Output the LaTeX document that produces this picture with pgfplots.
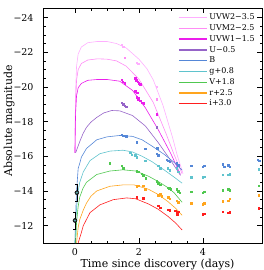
\documentclass[border=0pt]{standalone}
\usepackage{fontspec}
\setmainfont{DejaVu Serif}
\usepackage{pgfplots}
\pgfplotsset{compat=1.18}
\definecolor{cwtwo}{RGB}{255,175,255}
\definecolor{cmtwo}{RGB}{255,140,245}
\definecolor{cwone}{RGB}{235,30,235}
\definecolor{cu}{RGB}{150,100,200}
\definecolor{cb}{RGB}{85,135,215}
\definecolor{cg}{RGB}{95,195,205}
\definecolor{cv}{RGB}{80,200,80}
\definecolor{cr}{RGB}{255,165,30}
\definecolor{ci}{RGB}{255,30,30}
\pgfplotsset{pts/.style={forget plot, only marks, mark=square*, mark size=0.75pt, mark options={fill=#1, draw=#1}, color=#1},
 crv/.style={forget plot, no marks, line width=0.6pt, color=#1}}
\begin{document}
\begin{tikzpicture}
\begin{axis}[name=ax, scale only axis, width=219bp, height=235bp,
 xmin=-1, xmax=5.85, ymin=-24.55, ymax=-11.0, y dir=reverse,
 xtick={0,2,4}, xticklabels={0,2,4}, minor x tick num=3,
 ytick={-24,-22,-20,-18,-16,-14,-12}, yticklabels={−24,−22,−20,−18,−16,−14,−12}, minor y tick num=3,
 tick align=inside, tick pos=both,
 major tick length=5bp, minor tick length=2.5bp,
 tick style={black, line width=0.5pt},
 axis line style={line width=0.6pt},
 xlabel={Time since discovery (days)}, ylabel={Absolute magnitude},
 xlabel style={font=\fontsize{11}{12}\selectfont, at={(axis description cs:0.523,-0.09)}, anchor=center},
 ylabel style={font=\fontsize{11}{12}\selectfont, at={(axis description cs:-0.155,0.52)}, anchor=center},
 tick label style={font=\fontsize{9.5}{10}\selectfont},
 yticklabel style={xshift=-6bp},
 xticklabel style={yshift=-2bp},
 legend style={draw=none, fill=none, at={(axis description cs:0.616,0.985)}, anchor=north west,
   font=\fontsize{8}{9}\selectfont, inner sep=0pt, row sep=-0.6pt,
   /tikz/every even column/.append style={column sep=3bp}},
 legend cell align=left,
 legend image code/.code={\draw[#1] (0bp,0bp) -- (28bp,0bp);},
]
\addlegendimage{draw=cwtwo, line width=1.4pt}\addlegendentry{UVW2−3.5}
\addlegendimage{draw=cmtwo, line width=1.4pt}\addlegendentry{UVM2−2.5}
\addlegendimage{draw=cwone, line width=1.1pt}\addlegendentry{UVW1−1.5}
\addlegendimage{draw=cu, line width=1.4pt}\addlegendentry{U−0.5}
\addlegendimage{draw=cb, line width=1.1pt}\addlegendentry{B}
\addlegendimage{draw=cg, line width=1.4pt}\addlegendentry{g+0.8}
\addlegendimage{draw=cv, line width=1.1pt}\addlegendentry{V+1.8}
\addlegendimage{draw=cr, line width=1.4pt}\addlegendentry{r+2.5}
\addlegendimage{draw=ci, line width=1.1pt}\addlegendentry{i+3.0}
% model curves
\addplot[crv=cwtwo] coordinates {(0.0,-16.2) (0.01,-18.5) (0.02,-19.8) (0.05,-21.2) (0.1,-21.9) (0.2,-22.3) (0.4,-22.55) (0.7,-22.62) (1.0,-22.62) (1.3,-22.5) (1.6,-22.25) (2.0,-21.6) (2.25,-21.05) (2.45,-20.4) (2.75,-18.95) (3.05,-17.1) (3.2,-16.05) (3.38,-15.0)};
\addplot[crv=cmtwo] coordinates {(0.0,-16.2) (0.01,-18.0) (0.02,-19.0) (0.05,-20.4) (0.1,-21.0) (0.2,-21.35) (0.4,-21.55) (0.7,-21.62) (1.0,-21.6) (1.3,-21.5) (1.6,-21.2) (2.0,-20.45) (2.45,-19.1) (2.85,-17.3) (3.1,-16.1) (3.35,-15.0)};
\addplot[crv=cwone] coordinates {(0.0,-16.2) (0.01,-17.6) (0.02,-18.5) (0.05,-19.5) (0.1,-19.95) (0.2,-20.2) (0.4,-20.38) (0.7,-20.43) (1.0,-20.43) (1.4,-20.33) (1.8,-19.8) (2.2,-18.8) (2.6,-17.55) (3.0,-16.15) (3.3,-14.95)};
\addplot[crv=cu] coordinates {(0.02,-16.2) (0.08,-16.5) (0.15,-16.85) (0.25,-17.3) (0.36,-17.67) (0.5,-17.97) (0.68,-18.24) (0.9,-18.5) (1.15,-18.64) (1.4,-18.62) (1.8,-18.35) (2.2,-17.75) (2.6,-16.8) (3.0,-15.75) (3.3,-14.9)};
\addplot[crv=cb] coordinates {(0.0,-11.0) (0.02,-12.5) (0.05,-14.0) (0.1,-15.3) (0.15,-15.6) (0.2,-15.95) (0.36,-16.45) (0.68,-16.95) (1.0,-17.12) (1.4,-17.2) (1.8,-17.15) (2.1,-16.95) (2.4,-16.6) (2.8,-16.1) (3.1,-15.65) (3.35,-15.2)};
\addplot[crv=cg] coordinates {(0.0,-11.0) (0.02,-12.0) (0.05,-13.0) (0.1,-14.0) (0.15,-14.5) (0.26,-15.1) (0.47,-15.75) (0.78,-16.15) (1.1,-16.3) (1.5,-16.35) (1.8,-16.25) (2.1,-16.0) (2.4,-15.7) (2.8,-15.2) (3.1,-14.8) (3.35,-14.45)};
\addplot[crv=cv] coordinates {(0.02,-11.0) (0.05,-12.2) (0.1,-13.1) (0.15,-13.65) (0.25,-14.15) (0.36,-14.5) (0.68,-14.95) (1.09,-15.15) (1.5,-15.22) (1.9,-15.15) (2.3,-14.85) (2.6,-14.55) (2.9,-14.2) (3.1,-13.9) (3.35,-13.35)};
\addplot[crv=cr] coordinates {(0.05,-11.0) (0.1,-11.9) (0.15,-12.35) (0.26,-12.9) (0.36,-13.3) (0.5,-13.7) (0.68,-14.0) (1.09,-14.27) (1.5,-14.35) (1.85,-14.35) (2.3,-14.1) (2.6,-13.8) (2.9,-13.4) (3.15,-13.0) (3.35,-12.6)};
\addplot[crv=ci] coordinates {(0.1,-11.0) (0.2,-11.6) (0.26,-12.0) (0.47,-12.75) (0.78,-13.2) (1.2,-13.5) (1.62,-13.6) (1.9,-13.55) (2.3,-13.25) (2.6,-12.95) (2.9,-12.55) (3.15,-12.15) (3.35,-11.75)};
% data points
\addplot[pts=cwtwo] coordinates {(1.46,-22.42) (1.51,-22.32) (1.93,-21.4) (1.97,-21.35) (2.55,-20.0)};
\addplot[pts=cmtwo] coordinates {(1.56,-21.67) (2.55,-19.3)};
\addplot[pts=cwone] coordinates {(1.46,-20.42) (1.5,-20.3) (1.56,-20.2) (1.88,-20.5) (1.92,-20.38) (1.96,-20.3) (2.0,-20.22) (2.04,-20.15) (1.88,-19.76) (1.95,-19.68) (1.93,-19.4) (1.97,-19.3) (2.0,-19.35) (2.04,-19.2) (2.1,-19.1) (2.15,-19.05) (2.55,-18.43)};
\addplot[pts=cu] coordinates {(1.46,-19.1) (1.51,-19.0) (1.56,-18.92) (1.61,-18.85) (2.55,-17.67)};
\addplot[pts=cb] coordinates {(1.46,-17.25) (1.51,-17.2) (1.56,-17.18) (1.61,-17.15) (1.93,-16.8) (2.19,-16.45) (2.55,-16.15) (2.57,-16.48) (2.6,-16.05) (2.87,-15.8) (2.92,-15.75) (2.97,-15.7) (3.18,-15.6) (3.23,-15.5) (3.63,-15.45) (4.0,-15.4) (4.04,-15.45) (4.62,-15.55) (4.66,-15.4) (4.8,-15.5) (4.84,-15.4) (5.72,-15.8) (5.76,-15.75)};
\addplot[pts=cg] coordinates {(1.72,-16.2) (1.78,-16.1) (1.88,-16.05) (1.93,-15.95) (2.19,-15.76) (2.6,-15.45) (2.66,-15.3) (2.9,-15.3) (2.97,-15.2) (3.18,-15.3) (3.23,-15.1) (3.63,-14.8) (4.0,-14.8) (4.04,-14.82) (4.62,-14.95) (4.8,-14.95) (4.84,-14.98) (5.74,-15.25)};
\addplot[pts=cv] coordinates {(1.09,-15.6) (1.46,-15.45) (1.51,-15.3) (1.93,-15.15) (1.98,-15.1) (2.09,-15.0) (2.13,-14.9) (2.22,-14.75) (2.55,-14.55) (2.6,-14.45) (2.66,-14.35) (2.9,-14.2) (2.95,-14.15) (3.0,-14.1) (3.18,-14.1) (3.23,-14.0) (3.28,-13.9) (3.63,-13.95) (4.0,-13.9) (4.04,-13.95) (4.62,-14.05) (4.8,-14.1) (4.84,-14.05) (5.74,-14.3)};
\addplot[pts=cr] coordinates {(1.93,-14.27) (1.98,-14.3) (2.13,-14.3) (2.19,-14.1) (2.6,-13.75) (2.66,-13.8) (2.71,-13.7) (2.92,-13.65) (2.97,-13.55) (3.18,-13.45) (3.23,-13.35) (3.63,-13.3) (4.0,-13.25) (4.04,-13.3) (4.62,-13.4) (4.8,-13.45) (4.84,-13.55) (5.74,-13.75)};
\addplot[pts=ci] coordinates {(1.93,-13.65) (2.13,-13.58) (2.6,-13.15) (2.66,-13.05) (2.92,-12.92) (2.97,-12.9) (3.13,-12.85) (3.18,-12.75) (3.2,-12.65) (3.23,-12.8) (4.0,-12.65) (4.04,-12.7) (4.62,-12.8) (4.8,-12.75) (4.84,-12.78) (5.74,-13.0)};
% early detections
\addplot[forget plot, only marks, black, mark=none, error bars/.cd, y dir=both, y explicit, error bar style={line width=0.6pt, black}, error mark options={rotate=90, mark size=1.5pt, black}] coordinates {(0.0,-12.3) +- (0,0.5) (0.06,-13.9) +- (0,0.5)};
\addplot[forget plot, only marks, mark=*, mark size=1.7pt, mark options={fill={rgb,255:red,90;green,175;blue,175}, draw=black!85, line width=0.5pt}] coordinates {(0.0,-12.3) (0.06,-13.9)};
\end{axis}
\pgfresetboundingbox
\path ([shift={(-43bp,-27bp)}]ax.south west) rectangle ([shift={(2bp,8bp)}]ax.north east);
\end{tikzpicture}
\end{document}
